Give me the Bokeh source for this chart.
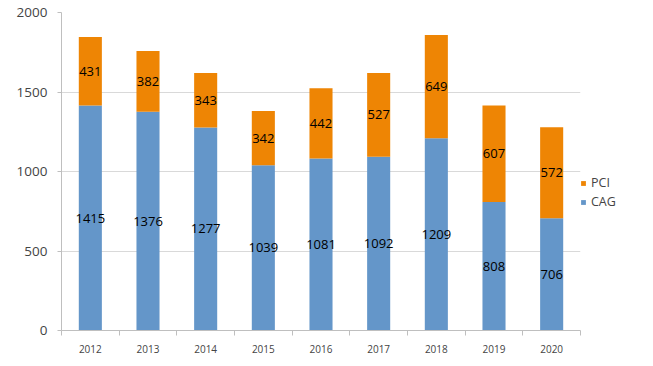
from bokeh.plotting import figure
from bokeh.models import ColumnDataSource, FixedTicker, Legend, LegendItem, Range1d, LabelSet
from bokeh.core.properties import value
from bokeh.embed import file_html
from bokeh.resources import INLINE

years = ["2012", "2013", "2014", "2015", "2016", "2017", "2018", "2019", "2020"]
cag = [1415, 1376, 1277, 1039, 1081, 1092, 1209, 808, 706]
pci = [431, 382, 343, 342, 442, 527, 649, 607, 572]
y_ticks = [0, 500, 1000, 1500, 2000]

BLUE = "#6496C9"
ORANGE = "#EE8504"
FONT = "Open Sans"

xs = [i + 0.5 for i in range(len(years))]
tops = [c + p for c, p in zip(cag, pci)]
src = ColumnDataSource(dict(
    x=xs, cag=cag, pci=pci, top=tops,
    cag_mid=[c / 2 for c in cag],
    pci_mid=[c + p / 2 for c, p in zip(cag, pci)],
    cag_txt=[str(v) for v in cag], pci_txt=[str(v) for v in pci],
))

p = figure(frame_width=519, frame_height=318, output_backend="svg", toolbar_location=None,
           x_range=Range1d(0, len(years)), y_range=Range1d(0, 2000),
           min_border_left=61, min_border_top=12, min_border_bottom=36, min_border_right=0)
p.outline_line_color = None
p.background_fill_color = "white"

r_cag = p.vbar(x="x", width=0.4, bottom=0, top="cag", source=src, fill_color=BLUE, line_color=None)
r_pci = p.vbar(x="x", width=0.4, bottom="cag", top="top", source=src, fill_color=ORANGE, line_color=None)

for col, ycol in (("cag_txt", "cag_mid"), ("pci_txt", "pci_mid")):
    p.add_layout(LabelSet(x="x", y=ycol, text=col, source=src, text_align="center",
                          text_baseline="middle", text_font=value(FONT),
                          text_font_size="13px", text_color="black"))

# axes
p.xaxis.ticker = FixedTicker(ticks=xs, minor_ticks=list(range(len(years) + 1)))
p.xaxis.major_label_overrides = {x: y for x, y in zip(xs, years)}
p.xaxis.major_tick_line_color = None
p.xaxis.minor_tick_line_color = "#BFBFBF"
p.xaxis.minor_tick_out = 5
p.xaxis.minor_tick_in = 0
p.xaxis.axis_line_color = "#BFBFBF"
p.xaxis.major_label_text_font = FONT
p.xaxis.major_label_text_font_size = "10px"
p.xaxis.major_label_standoff = 8

p.yaxis.ticker = FixedTicker(ticks=y_ticks, minor_ticks=[])
p.yaxis.axis_line_color = "#BFBFBF"
p.yaxis.major_tick_line_color = "#BFBFBF"
p.yaxis.major_tick_out = 4
p.yaxis.major_tick_in = 0
p.yaxis.major_label_text_font = FONT
p.yaxis.major_label_text_font_size = "13.5px"
p.yaxis.major_label_standoff = 10

p.xgrid.grid_line_color = None
p.ygrid.ticker = FixedTicker(ticks=y_ticks)
p.ygrid.grid_line_color = "#D9D9D9"

legend = Legend(items=[LegendItem(label="PCI", renderers=[r_pci]),
                       LegendItem(label="CAG", renderers=[r_cag])],
                location=(0, 120), orientation="vertical")
legend.glyph_width = 6
legend.glyph_height = 6
legend.label_standoff = 5
legend.spacing = 2
legend.padding = 0
legend.margin = 12
legend.border_line_color = None
legend.background_fill_alpha = 0
legend.label_text_font = FONT
legend.label_text_font_size = "12.5px"
p.add_layout(legend, "right")

open("out.html", "w").write(file_html(p, INLINE))
